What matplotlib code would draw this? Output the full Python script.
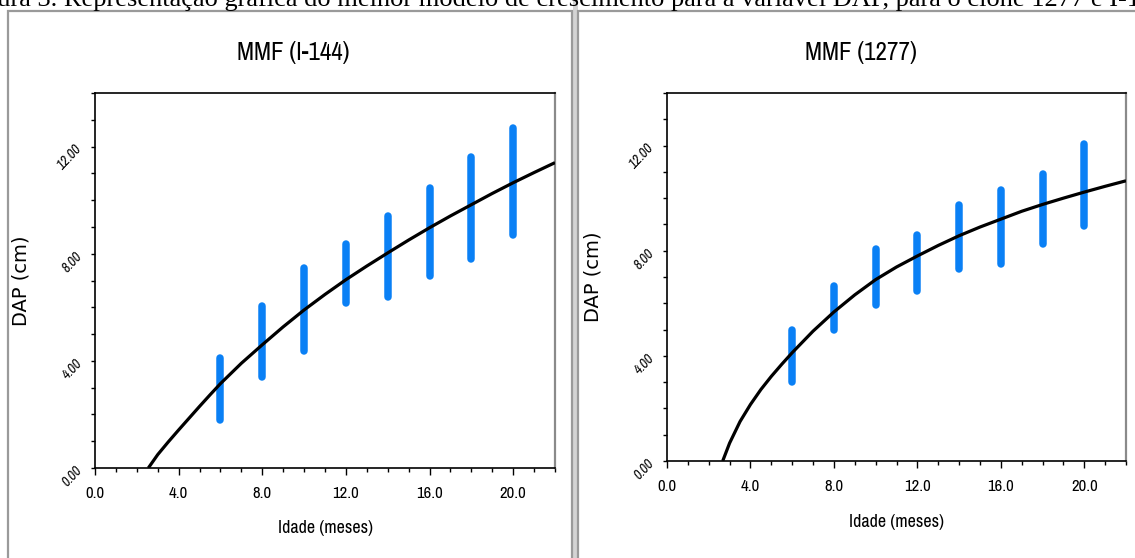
import matplotlib
matplotlib.use("Agg")
import matplotlib.pyplot as plt
from matplotlib.patches import Rectangle
from matplotlib.ticker import MultipleLocator, FormatStrFormatter

# idades medidas (meses)
ages = [6, 8, 10, 12, 14, 16, 18, 20]

# faixa de DAP observada em cada idade (cm)
lo_144 = [1.8, 3.4, 4.35, 6.15, 6.4, 7.15, 7.8, 8.7]
hi_144 = [4.1, 6.05, 7.45, 8.35, 9.4, 10.45, 11.6, 12.7]
lo_1277 = [3.0, 5.0, 5.95, 6.45, 7.3, 7.5, 8.25, 8.95]
hi_1277 = [5.0, 6.65, 8.05, 8.6, 9.75, 10.3, 10.9, 12.05]

# curva ajustada MMF
fit_x_144 = [2.55, 3, 3.5, 4, 4.5, 5, 5.5, 6, 7, 8, 9, 10, 11, 12, 13, 14, 15, 16, 17, 18, 19, 20, 21, 22]
fit_y_144 = [0, 0.5, 0.97, 1.42, 1.86, 2.3, 2.73, 3.15, 3.91, 4.6, 5.27, 5.9, 6.48, 7.03, 7.54, 8.03,
             8.51, 8.97, 9.41, 9.83, 10.25, 10.65, 11.03, 11.4]
fit_x_1277 = [2.67, 3, 3.5, 4, 4.5, 5, 5.5, 6, 7, 8, 9, 10, 11, 12, 13, 14, 15, 16, 17, 18, 19, 20, 21, 22]
fit_y_1277 = [0, 0.68, 1.5, 2.15, 2.72, 3.22, 3.68, 4.12, 4.94, 5.67, 6.32, 6.9, 7.38, 7.8, 8.2, 8.57,
              8.9, 9.2, 9.5, 9.76, 10.0, 10.23, 10.45, 10.66]

caption = ("Figura 3. Representação gráfica do melhor modelo de crescimento para a variável DAP, "
           "para o clone 1277 e I-144")

NARROW = ["Archivo Narrow", "Liberation Sans"]
blue = "#0A80F5"

fig = plt.figure(figsize=(11.35, 5.58), dpi=100)
W, H = 1135.0, 558.0

# molduras dos paineis
fig.patches.append(Rectangle((573 / W, 0), 5 / W, 1, transform=fig.transFigure,
                             facecolor="#d4d4d4", edgecolor="none"))
for x0, x1 in [(8, 572), (578, 1140)]:
    fig.patches.append(Rectangle((x0 / W, -0.05), (x1 - x0) / W, 1 + 0.05 - 11 / H,
                                 transform=fig.transFigure, fill=False,
                                 edgecolor="#9a9a9a", linewidth=1.6))

fig.text(-0.0335, 1 - 6 / H, caption, family=["Liberation Serif", "DejaVu Serif"],
         fontsize=19, ha="left", va="baseline")

panels = [
    ("MMF (I-144)", [95 / W, 1 - 468 / H, 460 / W, 375 / H], 293, lo_144, hi_144, fit_x_144, fit_y_144),
    ("MMF (1277)", [667 / W, 1 - 461 / H, 459 / W, 368 / H], 861, lo_1277, hi_1277, fit_x_1277, fit_y_1277),
]

for title, rect, tx, lo, hi, fx, fy in panels:
    ax = fig.add_axes(rect)
    ax.set_xlim(0, 22)
    ax.set_ylim(0, 14)
    ax.vlines(ages, lo, hi, colors=blue, linewidth=5.4, capstyle="round", zorder=2)
    ax.plot(fx, fy, color="black", linewidth=2.3, zorder=3, solid_capstyle="butt")

    ax.xaxis.set_major_locator(MultipleLocator(4))
    ax.xaxis.set_minor_locator(MultipleLocator(1))
    ax.yaxis.set_major_locator(MultipleLocator(4))
    ax.yaxis.set_minor_locator(MultipleLocator(1))
    ax.xaxis.set_major_formatter(FormatStrFormatter("%.1f"))
    ax.yaxis.set_major_formatter(FormatStrFormatter("%.2f"))
    ax.tick_params(axis="x", which="major", length=5, width=1, pad=8, labelsize=12)
    ax.tick_params(axis="x", which="minor", length=3, width=1)
    ax.tick_params(axis="y", which="both", length=3, width=1, pad=8, labelsize=10)
    for lab in ax.get_xticklabels():
        lab.set_family(NARROW)
    for lab in ax.get_yticklabels():
        lab.set_family(NARROW)
        lab.set_style("italic")
        lab.set_rotation(47)
        lab.set_rotation_mode("anchor")
        lab.set_ha("right")
        lab.set_va("center")
    for side in ["left", "bottom", "top"]:
        ax.spines[side].set_color("black")
        ax.spines[side].set_linewidth(1.2)
    ax.spines["right"].set_color("#8a8a8a")
    ax.spines["right"].set_linewidth(1.6)

    ax.set_xlabel("Idade (meses)", family=NARROW, fontsize=13, labelpad=14)
    ax.set_ylabel("DAP (cm)", family=["DejaVu Sans"], fontsize=14)
    ax.yaxis.set_label_coords(-0.14, 0.5)
    fig.text(tx / W, 1 - 53 / H, title, family=NARROW, fontsize=18, ha="center", va="center")

fig.savefig("out.png", dpi=100)
